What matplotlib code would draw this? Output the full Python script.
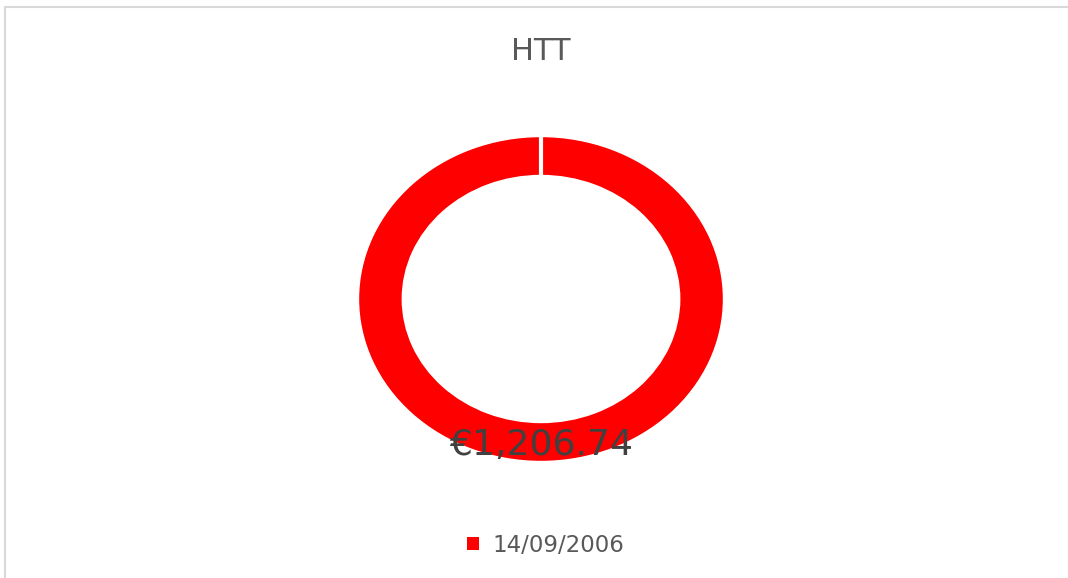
import matplotlib
matplotlib.use("Agg")
import matplotlib.pyplot as plt
from matplotlib.patches import Rectangle
import numpy as np

title = "HTT"
categories = ["14/09/2006"]
values = [1206.74]
value_labels = ["€1,206.74"]
colors = ["#ff0000"]

W, H = 1068, 578
fig = plt.figure(figsize=(W / 100, H / 100), dpi=100)
fig.patch.set_facecolor("white")

# chart border
fig.add_artist(Rectangle((5 / W, -0.01), 1.02, 1 - 7 / H + 0.01, transform=fig.transFigure,
                         fill=False, edgecolor="#d9d9d9", linewidth=1.5))

cx, cy = 541, 299
rx, ry = 182.5, 162.5
aw, ah = 2.2 * rx, 2.2 * ry
ax = fig.add_axes([(cx - aw / 2) / W, (H - cy - ah / 2) / H, aw / W, ah / H])
ring_w = 0.24
wedges, _ = ax.pie(values, colors=colors, startangle=90, counterclock=False, radius=1,
                   wedgeprops=dict(width=ring_w, edgecolor="white", linewidth=1))
# separator line at the slice boundary (start angle)
for w in wedges:
    ang = np.deg2rad(w.theta2)
    r0, r1 = 1 - ring_w - 0.02, 1.02
    ax.plot([r0 * np.cos(ang), r1 * np.cos(ang)], [r0 * np.sin(ang), r1 * np.sin(ang)],
            color="white", linewidth=3, solid_capstyle="butt")
ax.set_xlim(-1.1, 1.1)
ax.set_ylim(-1.1, 1.1)
ax.set_aspect("auto")
ax.axis("off")

ax.text(0, -0.9, value_labels[0], ha="center", va="center", fontsize=26,
        color="#404040", family="DejaVu Sans")

fig.text(cx / W, 1 - 52 / H, title, ha="center", va="center", fontsize=22, color="#595959")

leg = fig.legend(wedges, categories, loc="center", bbox_to_anchor=((cx + 5) / W, 1 - 545 / H),
                 frameon=False, handlelength=0.5, handleheight=0.5, handletextpad=0.6,
                 fontsize=16.5, labelcolor="#595959")
for h in leg.legend_handles:
    h.set_linewidth(0)

fig.savefig("out.png", dpi=100)
